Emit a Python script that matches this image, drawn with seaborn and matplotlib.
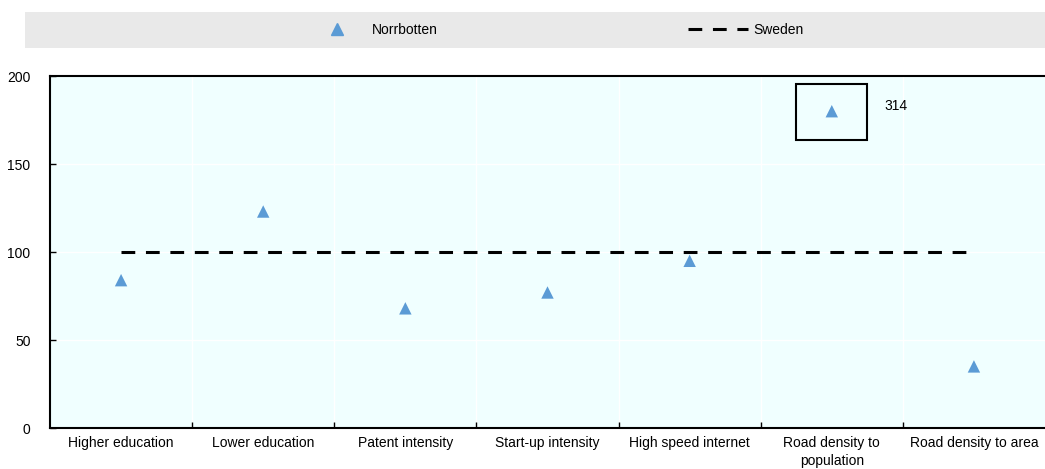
import numpy as np
import pandas as pd
import seaborn as sns
import matplotlib.pyplot as plt
from matplotlib.patches import Rectangle
from matplotlib.lines import Line2D

categories = ["Higher education", "Lower education", "Patent intensity",
              "Start-up intensity", "High speed internet",
              "Road density to\npopulation", "Road density to area"]
norrbotten = [84, 123, 68, 77, 95, 314, 35]
sweden = [100, 100, 100, 100, 100, 100, 100]

cap = 180  # values above the axis are drawn here and labelled
shown = [v if v <= 200 else cap for v in norrbotten]

df = pd.DataFrame({"indicator": categories, "Norrbotten": shown, "Sweden": sweden})

sns.set_style("white")
plt.rcParams["font.family"] = ["Liberation Sans", "DejaVu Sans"]
plt.rcParams["text.color"] = "black"
plt.rcParams["xtick.color"] = "black"
plt.rcParams["ytick.color"] = "black"
plt.rcParams["axes.labelcolor"] = "black"

blue = "#5B9BD5"

fig = plt.figure(figsize=(10.45, 4.69), dpi=100)
ax = fig.add_axes([50 / 1045, 41 / 469, 995 / 1045, 352 / 469])
ax.set_facecolor("#F0FFFF")

sns.lineplot(data=df, x="indicator", y="Sweden", ax=ax, color="black",
             linewidth=2.2, sort=False, zorder=2)
ax.lines[-1].set_dashes((4.5, 3.5))
sns.scatterplot(data=df, x="indicator", y="Norrbotten", ax=ax, marker="^",
                s=80, color=blue, edgecolor="none", zorder=3)

# the off-scale point
i = norrbotten.index(max(norrbotten))
ax.add_patch(Rectangle((i - 0.25, 163.5), 0.5, 32, fill=False,
                       edgecolor="black", linewidth=1.5, zorder=4))
ax.text(i + 0.37, cap + 3, str(max(norrbotten)), fontsize=10, va="center",
        ha="left")

ax.set_xlim(-0.5, len(categories) - 0.5)
ax.set_ylim(0, 200)
ax.set_yticks([0, 50, 100, 150, 200])
ax.set_xticks(range(len(categories)))
ax.set_xticklabels(categories, fontsize=10, linespacing=1.35)
ax.set_xticks(np.arange(0.5, len(categories) - 0.5, 1), minor=True)
ax.tick_params(axis="x", which="major", length=0, pad=6)
ax.tick_params(axis="x", which="minor", direction="in", length=4,
               width=1, color="black", bottom=True)
ax.tick_params(axis="y", direction="in", length=4, width=1, pad=14,
               labelsize=10, color="black", left=True)
ax.grid(True, axis="y", color="white", linewidth=1)
ax.grid(True, axis="x", which="minor", color="white", linewidth=1)
ax.set_axisbelow(True)
ax.set_xlabel("")
ax.set_ylabel("")

for side in ["left", "bottom", "top"]:
    ax.spines[side].set_visible(True)
    ax.spines[side].set_color("black")
    ax.spines[side].set_linewidth(1.5)
ax.spines["right"].set_visible(False)

# legend strip
fig.patches.append(Rectangle((25 / 1045, 421 / 469), 1020 / 1045, 36 / 469,
                             transform=fig.transFigure, facecolor="#E9E9E9",
                             edgecolor="none", zorder=0))
handles = [Line2D([], [], marker="^", color=blue, linestyle="none", markersize=8),
           Line2D([], [], color="black", linewidth=2.2, dashes=(4.5, 3.5))]
fig.legend(handles, ["Norrbotten", "Sweden"], ncol=2, loc="center",
           bbox_to_anchor=(555 / 1045, 439 / 469), frameon=False, fontsize=10,
           handlelength=4.3, handletextpad=0.4, columnspacing=18)

fig.savefig("out.png", dpi=100)
